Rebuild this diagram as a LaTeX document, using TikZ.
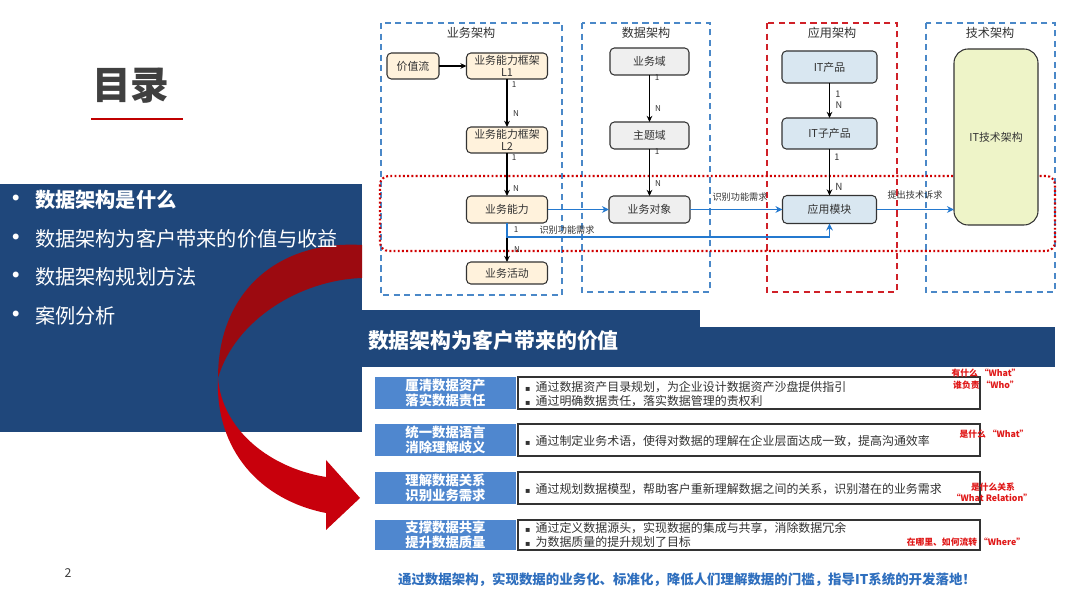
\documentclass[tikz,border=0pt]{standalone}
\usepackage{fontspec}
\setmainfont{Noto Sans CJK SC}
\newfontfamily\djv{DejaVu Sans}
\usetikzlibrary{arrows.meta,calc}
\newcommand\fsz[2]{\fontsize{#1pt}{#2pt}\selectfont}
\definecolor{panel}{HTML}{1F477B}
\definecolor{arrowdark}{HTML}{9C0A10}
\definecolor{arrowred}{HTML}{C8000C}
\definecolor{ttlgray}{HTML}{404040}
\definecolor{ulred}{HTML}{C00000}
\definecolor{colblue}{HTML}{4A88C8}
\definecolor{colred}{HTML}{D02028}
\definecolor{dotred}{HTML}{D00000}
\definecolor{ndline}{HTML}{333333}
\definecolor{cream}{HTML}{FFF2DC}
\definecolor{lgray}{HTML}{EFEFEF}
\definecolor{lblue}{HTML}{D9E7F1}
\definecolor{lyel}{HTML}{EEF4C8}
\definecolor{cblue}{HTML}{2479CF}
\definecolor{lbox}{HTML}{4F87CF}
\definecolor{txtgray}{HTML}{333333}
\definecolor{annred}{HTML}{E01818}
\definecolor{concl}{HTML}{2F6FBE}
\tikzset{
  every node/.style={inner sep=0pt, outer sep=0pt},
  sz/.style 2 args={minimum width=#1*0.02cm, minimum height=#2*0.02cm},
  nd/.style={draw=ndline, line width=0.6pt, rounded corners=2.5pt, align=center, font=\fsz{6.2}{6.8}, text=txtgray},
  colbox/.style={draw=colblue, line width=0.6pt, dash pattern=on 3.5pt off 2.5pt},
  colboxr/.style={draw=colred, line width=0.7pt, dash pattern=on 3.5pt off 2.5pt},
  reddot/.style={draw=dotred, line width=1.2pt, dash pattern=on 1.1pt off 1.3pt, rounded corners=5pt},
  coltitle/.style={font=\fsz{6.9}{8}, text=txtgray},
  blk/.style={draw=black, line width=0.7pt, -{Stealth[length=3.5pt,width=3.2pt]}},
  blu/.style={draw=cblue, line width=1.1pt, -{Stealth[length=4pt,width=3.8pt]}},
  card/.style={font=\fsz{4.6}{5}, text=txtgray},
  flbl/.style={font=\fsz{5.2}{6}, text=txtgray},
  bul/.style={anchor=west, font=\fsz{11.5}{13}, text=white},
  lblbox/.style={fill=lbox, align=center, font=\fsz{7.6}{8.2}\bfseries, text=white},
  txtbox/.style={draw=ndline, line width=0.8pt, fill=white},
  boxtxt/.style={anchor=west, align=left, font=\fsz{6.8}{8}, text=txtgray},
  ann/.style={font=\fsz{5}{6}\bfseries, text=annred}
}
\begin{document}
\begin{tikzpicture}[x=0.02cm,y=-0.02cm]
\useasboundingbox (0,0) rectangle (1080,607);
\fill[white] (0,0) rectangle (1080,607);

% left panel
\fill[panel] (0,184) rectangle (362,432);
% curved red arrow
\fill[arrowdark] (362,245) .. controls (280,240) and (218,290) .. (218,378)
   .. controls (235,320) and (300,280) .. (362,278) -- cycle;
\fill[arrowred] (218,378) .. controls (222,430) and (270,468) .. (326,477)
   -- (326,460) -- (360,498) -- (326,530) -- (326,513)
   .. controls (260,500) and (215,450) .. (218,378) -- cycle;
% header bars
\fill[panel] (362,310) rectangle (700,367);
\fill[panel] (700,327) rectangle (1055,367);

% title
\node[font=\fsz{22}{26}\bfseries, text=ttlgray] (title) at (131,86) {目录};
\draw[ulred, line width=1.6pt] (91,119) -- (183,119);

% bullets
\node[bul] (b1d) at (10,200) {\djv •};
\node[bul] (b1) at (35,200) {\bfseries 数据架构是什么};
\node[bul] (b2d) at (10,239) {\djv •};
\node[bul] (b2) at (35,239) {数据架构为客户带来的价值与收益};
\node[bul] (b3d) at (10,277) {\djv •};
\node[bul] (b3) at (35,277) {数据架构规划方法};
\node[bul] (b4d) at (10,316) {\djv •};
\node[bul] (b4) at (35,316) {案例分析};

% page number
\node[font=\fsz{7}{8}, text=ttlgray] (pg) at (68,573) {2};

% ===== top diagram =====
\draw[colbox] (381,23) rectangle (562,295);
\draw[colbox] (582,23) rectangle (710,292);
\draw[colboxr] (767,23) rectangle (897,292);
\draw[colbox] (926,23) rectangle (1055,292);
\draw[reddot] (380,176) rectangle (1055,251);

\node[coltitle] (t1) at (471,33) {业务架构};
\node[coltitle] (t2) at (646,33) {数据架构};
\node[coltitle] (t3) at (832,33) {应用架构};
\node[coltitle] (t4) at (990,33) {技术架构};

\node[nd, fill=cream, sz={52}{26}] (vs) at (413,66) {价值流};
\node[nd, fill=cream, sz={81}{26}] (l1) at (507,66) {业务能力框架\\L1};
\node[nd, fill=cream, sz={81}{26}] (l2) at (507,140) {业务能力框架\\L2};
\node[nd, fill=cream, sz={81}{27}] (bc) at (507,209.5) {业务能力};
\node[nd, fill=cream, sz={81}{22}] (ba) at (507,273) {业务活动};

\node[nd, fill=lgray, sz={79}{27}] (bd) at (649.5,61.5) {业务域};
\node[nd, fill=lgray, sz={79}{27}] (sd) at (649.5,135.5) {主题域};
\node[nd, fill=lgray, sz={81}{27}] (bo) at (649.5,209.5) {业务对象};

\node[nd, fill=lblue, sz={95}{32}] (itp) at (829.5,67) {IT产品};
\node[nd, fill=lblue, sz={95}{31}] (its) at (829.5,133.5) {IT子产品};
\node[nd, fill=lblue, sz={94}{28}] (am) at (829.5,209.5) {应用模块};

\node[nd, fill=lyel, sz={84}{176}, rounded corners=8pt] (ita) at (996,137) {IT技术架构};

% black connectors
\draw[blk] (vs) -- (l1);
\draw[blk] (l1) -- (l2);
\draw[blk] (l2) -- (bc);
\draw[blk] (bc) -- (ba);
\draw[blk] (bd) -- (sd);
\draw[blk] (sd) -- (bo);
\draw[blk] (itp) -- (its);
\draw[blk] (its) -- (am);

% cardinalities
\node[card] (c1) at (514,85) {1};
\node[card] (c2) at (516,114) {N};
\node[card] (c3) at (514,158) {1};
\node[card] (c4) at (516,189) {N};
\node[card] (c5) at (516,230) {1};
\node[card] (c6) at (517,250) {N};
\node[card] (c7) at (657,78) {1};
\node[card] (c8) at (658,109) {N};
\node[card] (c9) at (657,152) {1};
\node[card] (c10) at (658,184) {N};
\node[card, font=\fsz{5.2}{6}] (c11) at (838,94) {1};
\node[card, font=\fsz{5.2}{6}] (c12) at (839,105) {N};
\node[card, font=\fsz{5.2}{6}] (c13) at (837,157) {1};
\node[card, font=\fsz{5.6}{6}] (c14) at (839,187) {N};

% blue connectors
\coordinate (bend) at (507,237);
\draw[blu] (bc) -- (bo);
\draw[blu] (bo) -- (am);
\draw[blu] (am.east) -- (am.east -| ita.west);
\draw[blu] (bc.south) -- (bend) -| (am.south);
\node[flbl] (f1) at (567,230) {识别功能需求};
\node[flbl] (f2) at (740,197) {识别功能需求};
\node[flbl] (f3) at (915,195) {提出技术诉求};

% ===== bottom section =====
\node[anchor=west, font=\fsz{11.9}{13}\bfseries, text=white] (bartitle) at (368,341) {数据架构为客户带来的价值};

\node[lblbox, sz={141}{32}] (r1) at (445.5,393) {厘清数据资产\\落实数据责任};
\node[lblbox, sz={141}{32}] (r2) at (445.5,440) {统一数据语言\\消除理解歧义};
\node[lblbox, sz={141}{32}] (r3) at (445.5,488) {理解数据关系\\识别业务需求};
\node[lblbox, sz={141}{30}] (r4) at (445.5,535) {支撑数据共享\\提升数据质量};

\node[txtbox, sz={462}{32}] (x1) at (749,393) {};
\node[txtbox, sz={462}{32}] (x2) at (749,440) {};
\node[txtbox, sz={462}{32}] (x3) at (749,488) {};
\node[txtbox, sz={462}{30}] (x4) at (749,535) {};

\node[boxtxt] (y1) at (525,394) {{\djv\fsz{4.5}{8}▪}\hspace{3pt}通过数据资产目录规划，为企业设计数据资产沙盘提供指引\\{\djv\fsz{4.5}{8}▪}\hspace{3pt}通过明确数据责任，落实数据管理的责权利};
\node[boxtxt] (y2) at (525,441) {{\djv\fsz{4.5}{8}▪}\hspace{3pt}通过制定业务术语，使得对数据的理解在企业层面达成一致，提高沟通效率};
\node[boxtxt] (y3) at (525,489) {{\djv\fsz{4.5}{8}▪}\hspace{3pt}通过规划数据模型，帮助客户重新理解数据之间的关系，识别潜在的业务需求};
\node[boxtxt] (y4) at (525,535) {{\djv\fsz{4.5}{8}▪}\hspace{3pt}通过定义数据源头，实现数据的集成与共享，消除数据冗余\\{\djv\fsz{4.5}{8}▪}\hspace{3pt}为数据质量的提升规划了目标};

\node[ann] (a1) at (986,373) {有什么 “What”};
\node[ann] (a2) at (986,385) {谁负责 “Who”};
\node[ann] (a3) at (994,434) {是什么 “What”};
\node[ann] (a4) at (993,487) {是什么关系};
\node[ann] (a5) at (992,498) {“What Relation”};
\node[ann] (a6) at (966,542) {在哪里、如何流转 “Where”};

\node[font=\fsz{7.65}{9}\bfseries, text=concl] (cl) at (687,580) {通过数据架构，实现数据的业务化、标准化，降低人们理解数据的门槛，指导IT系统的开发落地！};
\end{tikzpicture}
\end{document}
